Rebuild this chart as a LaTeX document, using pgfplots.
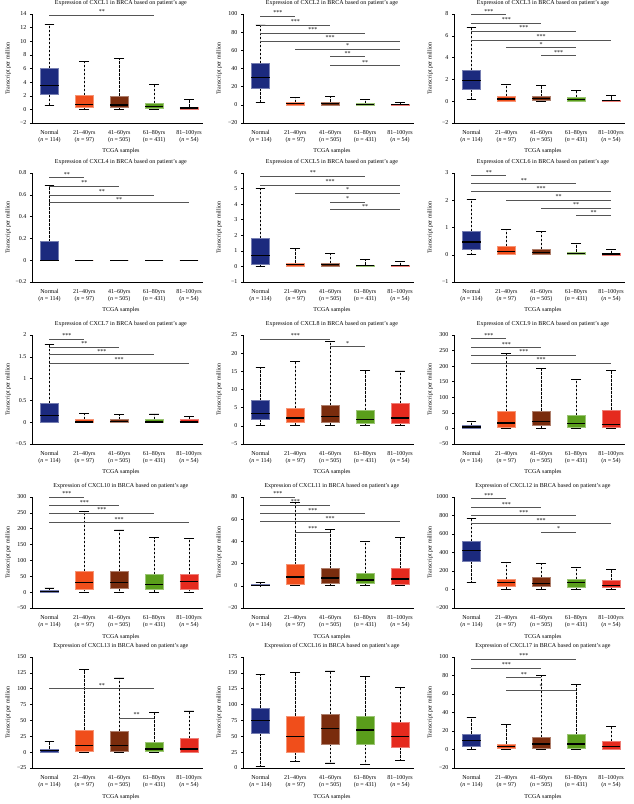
\documentclass[border=0pt]{standalone}
\usepackage{fontspec}
\setmainfont{Liberation Serif}
\usepackage{pgfplots}
\pgfplotsset{compat=1.18}
\usepgfplotslibrary{statistics}

\definecolor{cN}{HTML}{1C2A7E}
\definecolor{cA}{HTML}{F04E1B}
\definecolor{cB}{HTML}{7A2C0D}
\definecolor{cC}{HTML}{5A9E1B}
\definecolor{cD}{HTML}{E52A1E}
\definecolor{brk}{HTML}{555555}

\newcommand{\sz}{\fontsize{6}{7}\selectfont}

% one box: position, colour, lower whisker, lower quartile, median, upper quartile, upper whisker
\newcommand{\bx}[7]{\addplot[fill=#2, draw=#2!60!white, line width=0.5pt,
  boxplot prepared={draw position=#1, lower whisker=#3, lower quartile=#4,
  median=#5, upper quartile=#6, upper whisker=#7}] coordinates {};}
% significance bracket: from, to, height, stars
\newcommand{\br}[4]{\draw[brk, line width=0.7pt] (axis cs:#1,#3) -- (axis cs:#2,#3)
  node[midway, above, inner sep=1pt, font=\sz, text=black] {#4};}

\pgfplotsset{
  boxplot/draw direction=y,
  boxplot/box extend=0.52,
  boxplot/whisker extend=0.28,
  boxplot/every median/.style={black, line width=1.2pt},
  boxplot/every whisker/.style={black, line width=0.8pt},
  boxplot/draw/upper whisker/.code={
    \draw[/pgfplots/boxplot/every whisker/.try, dash pattern=on 2.5pt off 1.5pt]
      (boxplot box cs:\pgfplotsboxplotvalue{upper quartile},0.5) --
      (boxplot box cs:\pgfplotsboxplotvalue{upper whisker},0.5);
    \draw[/pgfplots/boxplot/every whisker/.try]
      (boxplot whisker cs:\pgfplotsboxplotvalue{upper whisker},0) --
      (boxplot whisker cs:\pgfplotsboxplotvalue{upper whisker},1);
  },
  boxplot/draw/lower whisker/.code={
    \draw[/pgfplots/boxplot/every whisker/.try, dash pattern=on 2.5pt off 1.5pt]
      (boxplot box cs:\pgfplotsboxplotvalue{lower quartile},0.5) --
      (boxplot box cs:\pgfplotsboxplotvalue{lower whisker},0.5);
    \draw[/pgfplots/boxplot/every whisker/.try]
      (boxplot whisker cs:\pgfplotsboxplotvalue{lower whisker},0) --
      (boxplot whisker cs:\pgfplotsboxplotvalue{lower whisker},1);
  },
  panel/.style={
    scale only axis, width=171pt, height=109pt, anchor=south west,
    xmin=0.5, xmax=5.4,
    axis x line=bottom, axis y line=left,
    axis line style={-, black, line width=0.5pt},
    tick align=outside, major tick length=2pt,
    ytick style={black, line width=0.5pt},
    xtick={1,2,3,4,5}, xtick style={draw=none},
    xticklabels={{Normal\\(\textit{n} = 114)},{21--40yrs\\(\textit{n} = 97)},
      {41--60yrs\\(\textit{n} = 505)},{61--80yrs\\(\textit{n} = 431)},
      {81--100yrs\\(\textit{n} = 54)}},
    x tick label style={align=center, font=\sz, yshift=-2pt},
    y tick label style={font=\sz},
    xlabel={TCGA samples}, ylabel={Transcript per million},
    xlabel style={font=\sz, at={(axis description cs:0.52,-0.26)}, anchor=center},
    ylabel style={font=\sz, at={(axis description cs:-0.14,0.5)}, anchor=center},
    title style={font=\sz, at={(axis description cs:0.52,1)}, anchor=south, yshift=-1.5pt},
    clip=false,
  },
}

\begin{document}
\begin{tikzpicture}
\useasboundingbox (0,0) rectangle (633pt,-804pt);

% ---------- row 1
\begin{axis}[panel, at={(32pt,-123pt)},
  title={Expression of CXCL1 in BRCA based on patient's age},
  ymin=-2, ymax=14, ytick={-2,0,...,14}, yticklabels={−2,0,2,4,6,8,10,12,14}]
\bx{1}{cN}{0.54}{2.15}{3.46}{6.05}{12.44}
\bx{2}{cA}{0}{0.34}{0.68}{2.05}{7.0}
\bx{3}{cB}{0}{0.3}{0.65}{2.0}{7.46}
\bx{4}{cC}{0}{0.2}{0.45}{0.93}{3.6}
\bx{5}{cD}{0}{0.05}{0.2}{0.35}{1.4}
\br{1}{4}{13.85}{**}
\end{axis}

\begin{axis}[panel, at={(243pt,-123pt)},
  title={Expression of CXCL2 in BRCA based on patient's age},
  ymin=-20, ymax=100, ytick={-20,0,...,100}, yticklabels={−20,0,20,40,60,80,100}]
\bx{1}{cN}{2.7}{18.4}{30.1}{45.9}{87.9}
\bx{2}{cA}{0}{0}{1.2}{2.7}{8.5}
\bx{3}{cB}{0}{0}{1.6}{3.4}{9.3}
\bx{4}{cC}{0}{0}{0.5}{1.2}{5.6}
\bx{5}{cD}{0}{0}{0.1}{0.5}{2.7}
\br{1}{2}{97.8}{***}
\br{1}{3}{87.9}{***}
\br{1}{4}{79.2}{***}
\br{1}{5}{70.4}{***}
\br{2}{5}{61.6}{*}
\br{3}{4}{53.2}{**}
\br{3}{5}{43.3}{**}
\end{axis}

\begin{axis}[panel, at={(454pt,-123pt)},
  title={Expression of CXCL3 in BRCA based on patient's age},
  ymin=-2, ymax=8, ytick={-2,0,...,8}, yticklabels={−2,0,2,4,6,8}]
\bx{1}{cN}{0.13}{1.11}{1.87}{2.82}{6.75}
\bx{2}{cA}{0}{0.04}{0.2}{0.44}{1.5}
\bx{3}{cB}{0}{0.07}{0.23}{0.41}{1.41}
\bx{4}{cC}{0}{0.04}{0.16}{0.35}{0.99}
\bx{5}{cD}{0}{0.02}{0.07}{0.13}{0.5}
\br{1}{2}{7.94}{***}
\br{1}{3}{7.15}{***}
\br{1}{4}{6.45}{***}
\br{1}{5}{5.62}{***}
\br{2}{4}{4.92}{*}
\br{3}{4}{4.19}{***}
\end{axis}

% ---------- row 2
\begin{axis}[panel, at={(32pt,-282pt)},
  title={Expression of CXCL4 in BRCA based on patient's age},
  ymin=-0.2, ymax=0.8, ytick={-0.2,0,0.2,0.4,0.6,0.8}, yticklabels={−0.2,0,0.2,0.4,0.6,0.8}]
\bx{1}{cN}{0}{0}{0}{0.171}{0.687}
\bx{2}{cA}{0}{0}{0}{0}{0}
\bx{3}{cB}{0}{0}{0}{0}{0}
\bx{4}{cC}{0}{0}{0}{0}{0}
\bx{5}{cD}{0}{0}{0}{0}{0}
\br{1}{2}{0.757}{**}
\br{1}{3}{0.678}{**}
\br{1}{4}{0.599}{**}
\br{1}{5}{0.529}{**}
\end{axis}

\begin{axis}[panel, at={(243pt,-282pt)},
  title={Expression of CXCL5 in BRCA based on patient's age},
  ymin=-1, ymax=6, ytick={-1,0,...,6}, yticklabels={−1,0,1,2,3,4,5,6}]
\bx{1}{cN}{0.01}{0.16}{0.71}{1.81}{5.03}
\bx{2}{cA}{0}{0.04}{0.12}{0.23}{1.18}
\bx{3}{cB}{0}{0.02}{0.1}{0.2}{0.86}
\bx{4}{cC}{0}{0.02}{0.06}{0.1}{0.42}
\bx{5}{cD}{0}{0.01}{0.04}{0.08}{0.31}
\br{1}{4}{5.79}{**}
\br{1}{5}{5.22}{***}
\br{2}{5}{4.71}{*}
\br{3}{4}{4.14}{*}
\br{3}{5}{3.65}{**}
\end{axis}

\begin{axis}[panel, at={(454pt,-282pt)},
  title={Expression of CXCL6 in BRCA based on patient's age},
  ymin=-1, ymax=3, ytick={-1,0,...,3}, yticklabels={−1,0,1,2,3}]
\bx{1}{cN}{0}{0.22}{0.47}{0.87}{2.03}
\bx{2}{cA}{0}{0.01}{0.11}{0.31}{0.93}
\bx{3}{cB}{0}{0.01}{0.09}{0.21}{0.87}
\bx{4}{cC}{0}{0.01}{0.05}{0.11}{0.43}
\bx{5}{cD}{0}{0}{0.03}{0.05}{0.21}
\br{1}{2}{2.90}{**}
\br{1}{4}{2.61}{**}
\br{1}{5}{2.32}{***}
\br{2}{5}{2.0}{**}
\br{3}{5}{1.72}{**}
\br{4}{5}{1.43}{**}
\end{axis}

% ---------- row 3
\begin{axis}[panel, at={(32pt,-444pt)},
  title={Expression of CXCL7 in BRCA based on patient's age},
  ymin=-0.5, ymax=2, ytick={-0.5,0,0.5,1,1.5,2}, yticklabels={−0.5,0,0.5,1,1.5,2}]
\bx{1}{cN}{0}{0}{0.15}{0.43}{1.79}
\bx{2}{cA}{0}{0}{0.005}{0.07}{0.2}
\bx{3}{cB}{0}{0}{0.01}{0.07}{0.17}
\bx{4}{cC}{0}{0}{0.005}{0.07}{0.19}
\bx{5}{cD}{0}{0}{0.005}{0.07}{0.13}
\br{1}{2}{1.91}{***}
\br{1}{3}{1.72}{**}
\br{1}{4}{1.55}{***}
\br{1}{5}{1.35}{***}
\end{axis}

\begin{axis}[panel, at={(243pt,-444pt)},
  title={Expression of CXCL8 in BRCA based on patient's age},
  ymin=-5, ymax=25, ytick={-5,0,...,25}, yticklabels={−5,0,5,10,15,20,25}]
\bx{1}{cN}{0.05}{1.88}{3.44}{6.93}{16.1}
\bx{2}{cA}{0}{0.87}{2.16}{4.82}{17.66}
\bx{3}{cB}{0}{0.87}{2.6}{5.73}{23.2}
\bx{4}{cC}{0}{0.69}{1.79}{4.36}{15.2}
\bx{5}{cD}{0}{0.69}{2.16}{6.19}{15.1}
\br{1}{3}{23.9}{***}
\br{3}{4}{21.8}{*}
\end{axis}

\begin{axis}[panel, at={(454pt,-444pt)},
  title={Expression of CXCL9 in BRCA based on patient's age},
  ymin=-50, ymax=300, ytick={-50,0,...,300}, yticklabels={−50,0,50,100,150,200,250,300}]
\bx{1}{cN}{0}{1}{4.4}{8.7}{23.6}
\bx{2}{cA}{0}{4.4}{17.2}{54.6}{241}
\bx{3}{cB}{0}{8.7}{22.6}{56.7}{193}
\bx{4}{cC}{0}{4.4}{15.1}{41.8}{156}
\bx{5}{cD}{0}{2.3}{11.9}{59.9}{186}
\br{1}{2}{289}{***}
\br{1}{3}{260}{***}
\br{1}{4}{236}{***}
\br{1}{5}{209}{***}
\end{axis}

% ---------- row 4
\begin{axis}[panel, at={(32pt,-608pt)}, height=111pt,
  title={Expression of CXCL10 in BRCA based on patient's age},
  ymin=-50, ymax=300, ytick={-50,0,...,300}, yticklabels={−50,0,50,100,150,200,250,300}]
\bx{1}{cN}{0}{1}{3}{7}{13.4}
\bx{2}{cA}{0}{10.3}{30.3}{66.3}{254}
\bx{3}{cB}{0}{11.3}{29.3}{66.3}{196}
\bx{4}{cC}{0}{9.2}{25}{55.7}{172}
\bx{5}{cD}{0}{10.3}{32.5}{55.7}{170}
\br{1}{2}{300}{***}
\br{1}{3}{273}{***}
\br{1}{4}{249}{***}
\br{1}{5}{220}{***}
\end{axis}

\begin{axis}[panel, at={(243pt,-608pt)}, height=111pt,
  title={Expression of CXCL11 in BRCA based on patient's age},
  ymin=-20, ymax=80, ytick={-20,0,...,80}, yticklabels={−20,0,20,40,60,80}]
\bx{1}{cN}{0}{0.1}{0.5}{1.1}{3.2}
\bx{2}{cA}{0}{1.7}{8}{19.2}{75.5}
\bx{3}{cB}{0}{2}{7.1}{15.5}{50.8}
\bx{4}{cC}{0}{2}{5.3}{11.3}{39.6}
\bx{5}{cD}{0}{1.7}{6.2}{15.5}{43.6}
\br{1}{2}{80}{***}
\br{1}{3}{72.5}{***}
\br{1}{4}{65.2}{***}
\br{1}{5}{57.7}{***}
\br{2}{3}{48.4}{***}
\end{axis}

\begin{axis}[panel, at={(454pt,-608pt)}, height=111pt,
  title={Expression of CXCL12 in BRCA based on patient's age},
  ymin=-200, ymax=1000, ytick={-200,0,...,1000}, yticklabels={−200,0,200,400,600,800,1000}]
\bx{1}{cN}{75.6}{304}{420}{521.5}{768}
\bx{2}{cA}{0}{32}{76}{112}{293}
\bx{3}{cB}{0}{32}{68}{134}{286}
\bx{4}{cC}{0}{25}{76}{112}{242}
\bx{5}{cD}{0}{25}{47}{97}{213}
\br{1}{2}{982}{***}
\br{1}{3}{888}{***}
\br{1}{4}{801}{***}
\br{1}{5}{710}{***}
\br{3}{4}{619}{*}
\end{axis}

% ---------- row 5
\begin{axis}[panel, at={(32pt,-768pt)}, height=111pt,
  title={Expression of CXCL13 in BRCA based on patient's age},
  ymin=-25, ymax=150, ytick={-25,0,...,150}, yticklabels={−25,0,25,50,75,100,125,150}]
\bx{1}{cN}{0}{0.5}{2}{5}{17}
\bx{2}{cA}{0}{2}{10}{35}{130}
\bx{3}{cB}{0}{1}{10}{33}{117}
\bx{4}{cC}{0}{2}{5}{15}{63}
\bx{5}{cD}{0}{0.5}{5}{22}{65}
\br{1}{4}{100}{**}
\br{3}{4}{54}{**}
\end{axis}

\begin{axis}[panel, at={(243pt,-768pt)}, height=111pt,
  title={Expression of CXCL16 in BRCA based on patient's age},
  ymin=0, ymax=175, ytick={0,25,...,175}, yticklabels={0,25,50,75,100,125,150,175}]
\bx{1}{cN}{2}{55}{75}{95}{148}
\bx{2}{cA}{10}{25}{50}{82}{150}
\bx{3}{cB}{8}{38}{62}{85}{153}
\bx{4}{cC}{5}{38}{60}{82}{145}
\bx{5}{cD}{12}{33}{50}{72}{127}
\end{axis}

\begin{axis}[panel, at={(454pt,-768pt)}, height=111pt,
  title={Expression of CXCL17 in BRCA based on patient's age},
  ymin=-20, ymax=100, ytick={-20,0,...,100}, yticklabels={−20,0,20,40,60,80,100}]
\bx{1}{cN}{0}{3}{10}{17}{35}
\bx{2}{cA}{0}{1}{3}{6}{27}
\bx{3}{cB}{0}{1}{6}{13}{80}
\bx{4}{cC}{0}{1}{6}{16}{70}
\bx{5}{cD}{0}{0.2}{3}{9}{25}
\br{1}{4}{98}{***}
\br{1}{3}{88}{***}
\br{2}{3}{78}{**}
\br{2}{4}{64}{*}
\end{axis}
\end{tikzpicture}
\end{document}
